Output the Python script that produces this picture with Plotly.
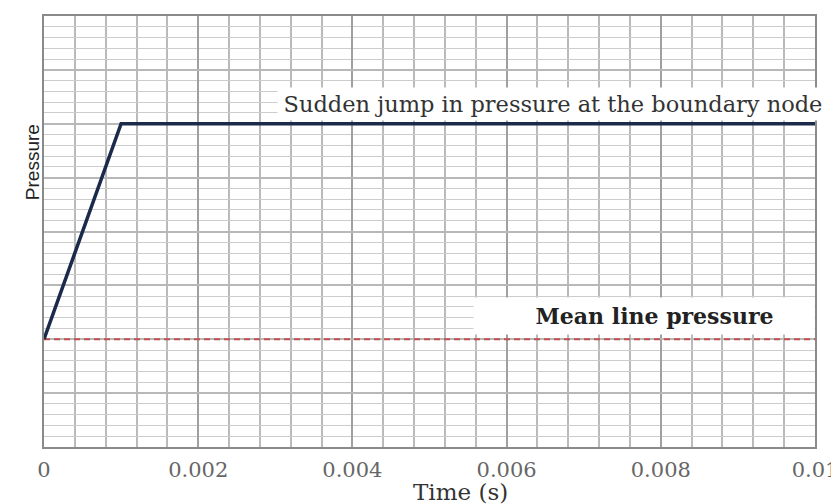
import plotly.graph_objects as go

# Data
time_s = [0.0, 0.001, 0.01]
pressure = [2.0, 6.0, 6.0]
mean_time = [0.0, 0.01]
mean_pressure = [2.0, 2.0]
x_tickvals = [0, 0.002, 0.004, 0.006, 0.008, 0.01]
x_ticktext = ["0", "0.002", "0.004", "0.006", "0.008", "0.01"]

SERIF = "DejaVu Serif, Liberation Serif, serif"

fig = go.Figure()
fig.add_trace(go.Scatter(x=mean_time, y=mean_pressure, mode="lines",
                         line=dict(color="#c0504d", width=1.8, dash="6px,4px"),
                         showlegend=False, hoverinfo="skip"))
fig.add_trace(go.Scatter(x=time_s, y=pressure, mode="lines",
                         line=dict(color="#1b2a4a", width=3.5),
                         showlegend=False, hoverinfo="skip"))

# the page body adds an 8px margin, so the figure is sized to fit inside it
fig.update_layout(
    width=831, height=496,
    margin=dict(l=36, r=24, t=8, b=57),
    paper_bgcolor="white", plot_bgcolor="white",
    xaxis=dict(range=[0, 0.01], tickvals=x_tickvals, ticktext=x_ticktext,
               automargin=False,
               showgrid=True, gridcolor="#a0a0a0", gridwidth=1.7,
               minor=dict(dtick=0.0004, showgrid=True, gridcolor="#bababa", gridwidth=1.5),
               showline=True, linecolor="#8a8a8a", linewidth=1.5, mirror=True,
               zeroline=False, ticks="", ticklabelstandoff=3,
               tickfont=dict(family=SERIF, size=21, color="#666666")),
    yaxis=dict(range=[0, 8], dtick=1, showticklabels=False, automargin=False,
               showgrid=True, gridcolor="#b8b8b8", gridwidth=1.5,
               minor=dict(dtick=0.2, showgrid=True, gridcolor="#cccccc", gridwidth=1.3),
               showline=True, linecolor="#8a8a8a", linewidth=1.5, mirror=True,
               zeroline=False, ticks=""),
    annotations=[
        dict(x=0.0066, y=6.37, xref="x", yref="y", showarrow=False,
             text="Sudden jump in pressure at the boundary node",
             font=dict(family=SERIF, size=22.5, color="#333333"),
             bgcolor="white", width=548, height=30, align="center"),
        dict(x=0.00778, y=2.44, xref="x", yref="y", showarrow=False,
             text="&nbsp;&nbsp;&nbsp;<b>Mean line pressure</b>",
             font=dict(family=SERIF, size=22, color="#222222"),
             bgcolor="white", width=338, height=34, align="center"),
        dict(x=-0.031, y=0.66, xref="paper", yref="paper", showarrow=False,
             text="Pressure", textangle=-90,
             font=dict(family="Liberation Sans Narrow, Liberation Sans, sans-serif", size=19, color="#222222")),
        dict(x=0.54, y=-0.105, xref="paper", yref="paper", showarrow=False,
             text="Time (s)", yanchor="middle",
             font=dict(family=SERIF, size=23, color="#333333")),
    ],
)

fig.write_html("out.html")
